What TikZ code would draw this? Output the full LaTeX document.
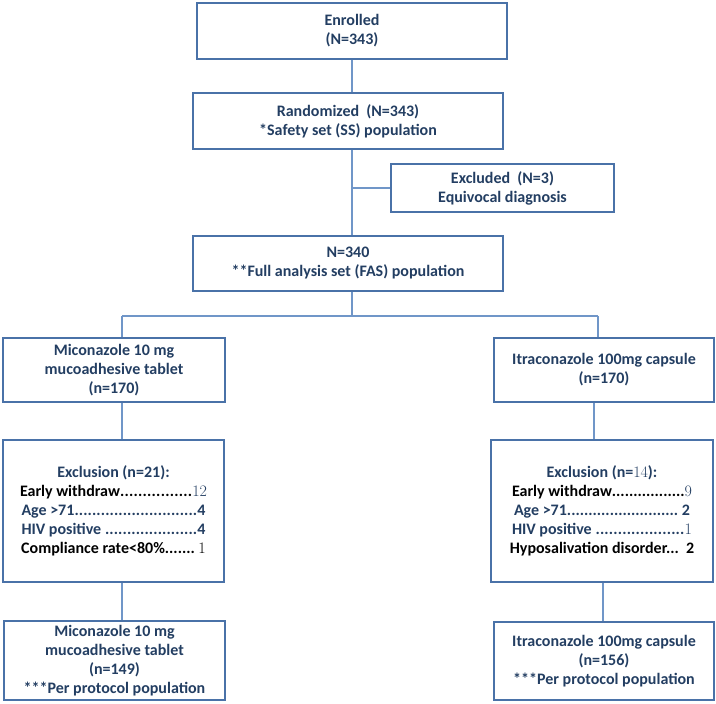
\documentclass[tikz,border=0pt]{standalone}
\usepackage{fontspec}
\newfontfamily\carl{Carlito}
\definecolor{boxc}{RGB}{74,114,168}
\definecolor{connc}{RGB}{112,150,200}
\definecolor{navy}{RGB}{35,62,98}
\newcommand\sn[1]{{\rmfamily\mdseries #1}}
\newcommand\lead[3]{\hbox to #1{#2\xleaders\hbox{.}\hfill #3}}
\tikzset{
  box/.style={draw=boxc, line width=2.7pt, fill=white, inner sep=0pt,
    font=\carl\bfseries\fontsize{16}{19}\selectfont, text=navy, align=center},
  conn/.style={draw=connc, line width=2.6pt},
}
\begin{document}
\begin{tikzpicture}[x=1pt,y=-1pt]
\fill[white] (0,0) rectangle (716,704);
\useasboundingbox (0,0) rectangle (716,704);

\node[box, minimum width=310pt, minimum height=56pt] (enr) at (352,31) {Enrolled\\(N=343)};
\node[box, minimum width=310pt, minimum height=56pt] (rand) at (348,121) {Randomized\ \ (N=343)\\*Safety set (SS) population};
\node[box, minimum width=223pt, minimum height=48pt] (excl) at (502.5,188) {Excluded\ \ (N=3)\\Equivocal diagnosis};
\node[box, minimum width=310pt, minimum height=55pt] (fas) at (348,263.5) {N=340\\**Full analysis set (FAS) population};

\node[box, minimum width=222pt, minimum height=64pt] (armL) at (114,370) {Miconazole 10 mg\\mucoadhesive tablet\\(n=170)};
\node[box, minimum width=220pt, minimum height=64pt] (armR) at (604,370) {Itraconazole 100mg capsule\\(n=170)};

\node[box, minimum width=221pt, minimum height=142pt] (exL) at (113.5,511) {Exclusion (n=21):\\
{\color{black}\lead{187pt}{Early withdraw}{\textcolor{navy}{\sn{12}}}}\\
\lead{184pt}{Age >71}{4}\\
\lead{184pt}{HIV positive\ }{4}\\
{\color{black}Compliance rate<80\%.......\ \sn{1}}};

\node[box, minimum width=222pt, minimum height=142pt] (exR) at (602,511) {Exclusion (n=\sn{14}):\\
{\color{black}\lead{180pt}{Early withdraw}{\textcolor{navy}{\sn{9}}}}\\
\lead{176pt}{Age >71}{\ 2}\\
\lead{180pt}{HIV positive\ }{\sn{1}}\\
{\color{black}Hyposalivation disorder...\ \ 2}};

\node[box, minimum width=221pt, minimum height=79pt] (ppL) at (114.5,660.5) {Miconazole 10 mg\\mucoadhesive tablet\\(n=149)\\***Per protocol population};
\node[box, minimum width=220pt, minimum height=78pt] (ppR) at (604,661) {Itraconazole 100mg capsule\\(n=156)\\***Per protocol population};

\coordinate (bj) at (352,316);
\coordinate (bl) at (122,316);
\coordinate (br) at (598,316);

\draw[conn] (enr.south) -- (enr.south |- rand.north);
\draw[conn] (rand.south -| enr.south) -- (enr.south |- fas.north);
\draw[conn] (enr.south |- excl.west) -- (excl.west);
\draw[conn] (fas.south -| bj) -- (bj);
\draw[conn] (bl) -- (br);
\draw[conn] (bl) -- (bl |- armL.north);
\draw[conn] (br) -- (br |- armR.north);
\draw[conn] (armL.south -| bl) -- (bl |- exL.north);
\draw[conn] (exL.south -| bl) -- (bl |- ppL.north);
\coordinate (r1) at (594,0);
\coordinate (r2) at (603,0);
\draw[conn] (armR.south -| r1) -- (r1 |- exR.north);
\draw[conn] (exR.south -| r2) -- (r2 |- ppR.north);
\end{tikzpicture}
\end{document}
